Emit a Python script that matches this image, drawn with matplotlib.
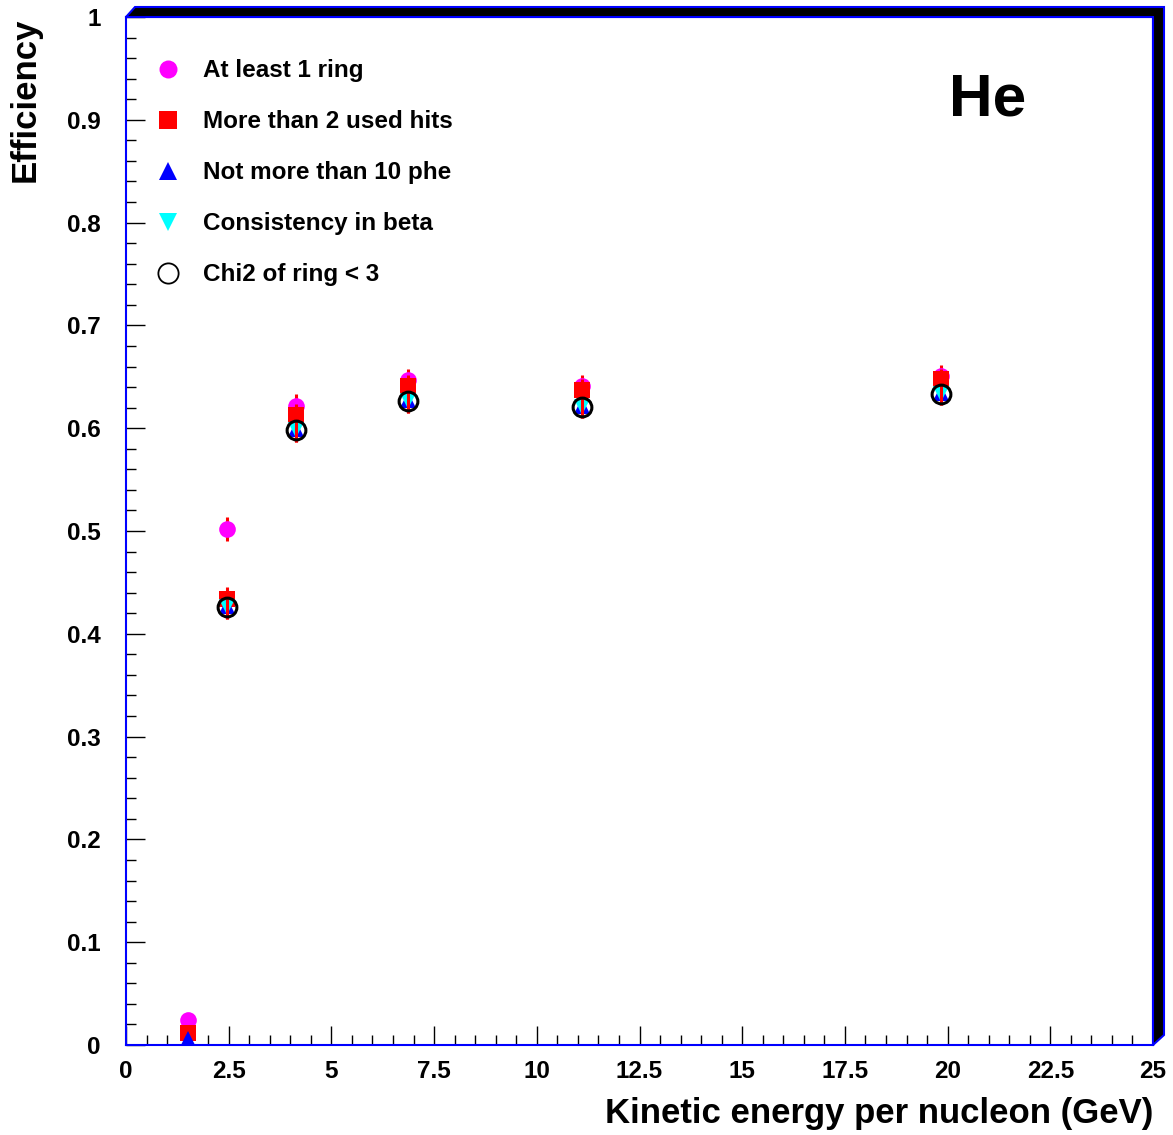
import numpy as np
import matplotlib
matplotlib.use("Agg")
import matplotlib.pyplot as plt
from matplotlib.ticker import MultipleLocator
from matplotlib.patches import Polygon

plt.rcParams['font.family'] = ['Liberation Sans', 'DejaVu Sans']
plt.rcParams['font.weight'] = 'bold'

# kinetic energy per nucleon (GeV)
energy = [1.5, 2.46, 4.14, 6.86, 11.1, 19.84]

# efficiencies after each cut
ring = [0.024, 0.502, 0.622, 0.647, 0.641, 0.651]
hits = [0.012, 0.434, 0.613, 0.641, 0.637, 0.648]
phe = [0.006, 0.427, 0.599, 0.627, 0.622, 0.634]
beta = [np.nan, 0.426, 0.598, 0.626, 0.621, 0.633]
chi2 = [np.nan, 0.426, 0.598, 0.626, 0.621, 0.633]

ring_err = [0.004, 0.012, 0.011, 0.011, 0.011, 0.010]
hits_err = [0.004, 0.012, 0.011, 0.011, 0.011, 0.010]
cut_err = [0.003, 0.012, 0.011, 0.011, 0.011, 0.010]

labels = ["At least 1 ring", "More than 2 used hits", "Not more than 10 phe",
          "Consistency in beta", "Chi2 of ring < 3"]

W, H = 1173, 1135
fig = plt.figure(figsize=(W / 100, H / 100), dpi=100)
L, R, T, B = 126, 1153, 17, 1045
ax = fig.add_axes([L / W, 1 - B / H, (R - L) / W, (B - T) / H])

ms = 12
handles = []
h = ax.errorbar(energy, ring, yerr=ring_err, fmt='o', color='#ff00ff', ecolor='red',
                elinewidth=2.2, capsize=0, ms=ms, mew=0, zorder=3)
handles.append(h.lines[0])
h = ax.errorbar(energy, hits, yerr=hits_err, fmt='s', color='red', ecolor='red',
                elinewidth=2.2, capsize=0, ms=ms, mew=0, zorder=4)
handles.append(h.lines[0])
h = ax.errorbar(energy, phe, yerr=cut_err, fmt='^', color='blue', ecolor='red',
                elinewidth=2.2, capsize=0, ms=ms, mew=0, zorder=5)
handles.append(h.lines[0])
h = ax.errorbar(energy, beta, yerr=cut_err, fmt='v', color='cyan', ecolor='red',
                elinewidth=2.2, capsize=0, ms=ms, mew=0, zorder=6)
handles.append(h.lines[0])
h = ax.errorbar(energy, chi2, yerr=cut_err, fmt='o', mfc='none', mec='black', ecolor='red',
                elinewidth=2.2, capsize=0, ms=ms + 1.5, mew=2.2, zorder=7)
handles.append(h.lines[0])

ax.set_xlim(0, 25)
ax.set_ylim(0, 1)
ax.xaxis.set_major_locator(MultipleLocator(2.5))
ax.xaxis.set_minor_locator(MultipleLocator(0.5))
ax.yaxis.set_major_locator(MultipleLocator(0.1))
ax.yaxis.set_minor_locator(MultipleLocator(0.02))
ax.xaxis.set_major_formatter(plt.FuncFormatter(lambda v, p: f"{v:g}"))
ax.yaxis.set_major_formatter(plt.FuncFormatter(lambda v, p: f"{v:g}"))
ax.tick_params(which='both', direction='in', colors='black', labelsize=17.5)
ax.tick_params(which='major', length=13.5, width=1)
ax.tick_params(which='minor', length=7, width=1)
ax.tick_params(axis='x', which='major', pad=11)
ax.tick_params(axis='y', which='major', pad=18)
for s in ax.spines.values():
    s.set_color('blue')
    s.set_linewidth(1.5)

ax.set_xlabel("Kinetic energy per nucleon (GeV)", fontsize=25, fontweight='bold', loc='right')
ax.set_ylabel("Efficiency", fontsize=25, fontweight='bold', loc='top')
ax.xaxis.set_label_coords(1.0, -0.051)
ax.yaxis.set_label_coords(-0.082, 1.0)

ax.text(0.839, 0.919, "He", transform=ax.transAxes, fontsize=43.5, fontweight='bold',
        ha='center', va='center')

leg = ax.legend(handles, labels, loc='upper left', bbox_to_anchor=(0.005, 0.98),
                frameon=False, fontsize=17.5, handlelength=1.2, handletextpad=0.85,
                labelspacing=1.15, numpoints=1, markerscale=1.08)
leg.legend_handles[4].set_markeredgewidth(1.3)

# shadowed frame in ROOT style
shadow = [(L, T), (L + 9, T - 10), (R + 11, T - 10), (R + 11, B - 10), (R, B), (R, T)]
shadow = [(x / W, 1 - y / H) for x, y in shadow]
fig.patches.append(Polygon(shadow, closed=True, facecolor='black', edgecolor='blue',
                           linewidth=1.5, transform=fig.transFigure))

fig.savefig("out.png", dpi=100)
